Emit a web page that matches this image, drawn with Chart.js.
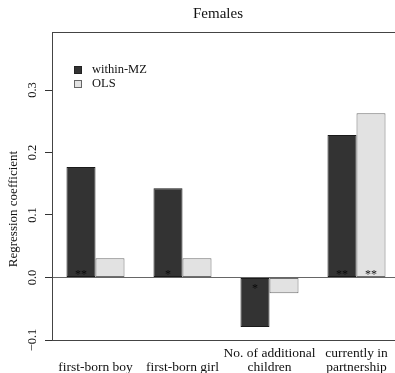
<!DOCTYPE html>
<html>
<head>
<meta charset="utf-8">
<script src="https://cdn.jsdelivr.net/npm/chart.js@4/dist/chart.umd.min.js"></script>
<style>
html,body{margin:0;padding:0;background:#fff;overflow:hidden;}
#wrap{width:400px;height:373px;position:relative;}
</style>
</head>
<body>
<div id="wrap"><canvas id="c" width="400" height="373"></canvas></div>
<script>
const categories = [["", "first-born boy"], ["", "first-born girl"], ["No. of additional", "children"], ["currently in", "partnership"]];
const seriesNames = ["within-MZ", "OLS"];
const withinMZ = [0.177, 0.143, -0.079, 0.228];
const ols = [0.031, 0.031, -0.025, 0.263];
const sigMZ = ["**", "*", "*", "**"];
const sigOLS = ["", "", "", "**"];
const yTicks = [-0.1, 0.0, 0.1, 0.2, 0.3];
const titleText = "Females";
const yTitle = "Regression coefficient";

const SERIF = "'Liberation Serif', 'DejaVu Serif', serif";
const DARK = "#333333", LIGHT = "#e2e2e2";

const overlay = {
  id: "overlay",
  beforeDatasetsDraw(chart) {
    const {ctx, chartArea: a, scales: {y}} = chart;
    const y0 = y.getPixelForValue(0);
    ctx.save();
    ctx.strokeStyle = "#666";
    ctx.lineWidth = 1.2;
    ctx.beginPath(); ctx.moveTo(a.left, y0); ctx.lineTo(a.right, y0); ctx.stroke();
    ctx.restore();
  },
  afterDraw(chart) {
    const {ctx, chartArea: a, scales: {x, y}} = chart;
    ctx.save();
    // box
    ctx.strokeStyle = "#444"; ctx.lineWidth = 1;
    ctx.strokeRect(a.left + 0.5, a.top + 0.5, a.right - a.left, a.bottom - a.top);
    // title
    ctx.fillStyle = "#111";
    ctx.font = "15px " + SERIF;
    ctx.textAlign = "center"; ctx.textBaseline = "middle";
    ctx.fillText(titleText, 218, 14);
    // y axis title
    ctx.save();
    ctx.font = "13px " + SERIF;
    ctx.translate(14, 209);
    ctx.rotate(-Math.PI / 2);
    ctx.fillText(yTitle, 0, 0);
    ctx.restore();
    // y tick labels rotated
    ctx.font = "12.5px " + SERIF;
    yTicks.forEach(v => {
      const py = y.getPixelForValue(v);
      ctx.save();
      ctx.translate(33, py);
      ctx.rotate(-Math.PI / 2);
      ctx.textAlign = "center"; ctx.textBaseline = "middle";
      ctx.fillText(v.toFixed(1).replace("-", "\u2212"), 0, 0);
      ctx.restore();
    });
    // legend
    const lx = 74, items = [[DARK, "#222", 70], [LIGHT, "#666", 84]];
    ctx.font = "12.5px " + SERIF;
    ctx.textAlign = "left"; ctx.textBaseline = "middle";
    items.forEach((it, i) => {
      ctx.fillStyle = it[0]; ctx.strokeStyle = it[1];
      ctx.fillRect(lx, it[2] - 4, 8, 8);
      ctx.strokeRect(lx + 0.5, it[2] - 3.5, 7, 7);
      ctx.fillStyle = "#111";
      ctx.fillText(seriesNames[i], 92, it[2]);
    });
    // significance stars
    ctx.font = "12px " + SERIF;
    ctx.textAlign = "center"; ctx.textBaseline = "alphabetic";
    const y0 = y.getPixelForValue(0);
    [[0, sigMZ, withinMZ, "#0a0a0a"], [1, sigOLS, ols, "#111"]].forEach(([di, sig, vals, col]) => {
      const meta = chart.getDatasetMeta(di);
      meta.data.forEach((bar, i) => {
        if (!sig[i]) return;
        ctx.fillStyle = col;
        const by = vals[i] >= 0 ? y0 + 0.5 : y0 + 14.5;
        ctx.fillText(sig[i], bar.x, by);
      });
    });
    ctx.restore();
  }
};

new Chart(document.getElementById("c"), {
  type: "bar",
  data: {
    labels: categories,
    datasets: [
      {label: seriesNames[0], data: withinMZ, backgroundColor: DARK, borderColor: "#1a1a1a", borderWidth: 1, borderSkipped: false},
      {label: seriesNames[1], data: ols, backgroundColor: LIGHT, borderColor: "#6e6e6e", borderWidth: 1, borderSkipped: false}
    ]
  },
  options: {
    responsive: false,
    animation: false,
    devicePixelRatio: 1,
    layout: {padding: {top: 32, left: 0, right: 0, bottom: 0}},
    datasets: {bar: {categoryPercentage: 0.667, barPercentage: 1.0}},
    plugins: {legend: {display: false}, title: {display: false}, tooltip: {enabled: false}},
    scales: {
      x: {
        grid: {display: false, drawTicks: false},
        border: {display: false},
        ticks: {color: "#111", font: {family: SERIF, size: 13.5, lineHeight: 1.05}, padding: 6, maxRotation: 0, minRotation: 0, autoSkip: false},
        afterFit(s) { s.height = 33; }
      },
      y: {
        min: -0.1, max: 0.3928,
        grid: {drawOnChartArea: false, drawTicks: true, tickLength: 7, color: "#333"},
        border: {display: false},
        ticks: {display: false, stepSize: 0.1, includeBounds: false},
        afterBuildTicks(s) { s.ticks = yTicks.map(v => ({value: v})); },
        afterFit(s) { s.width = 52; },
        title: {display: false}
      }
    }
  },
  plugins: [overlay]
});
</script>
</body>
</html>
